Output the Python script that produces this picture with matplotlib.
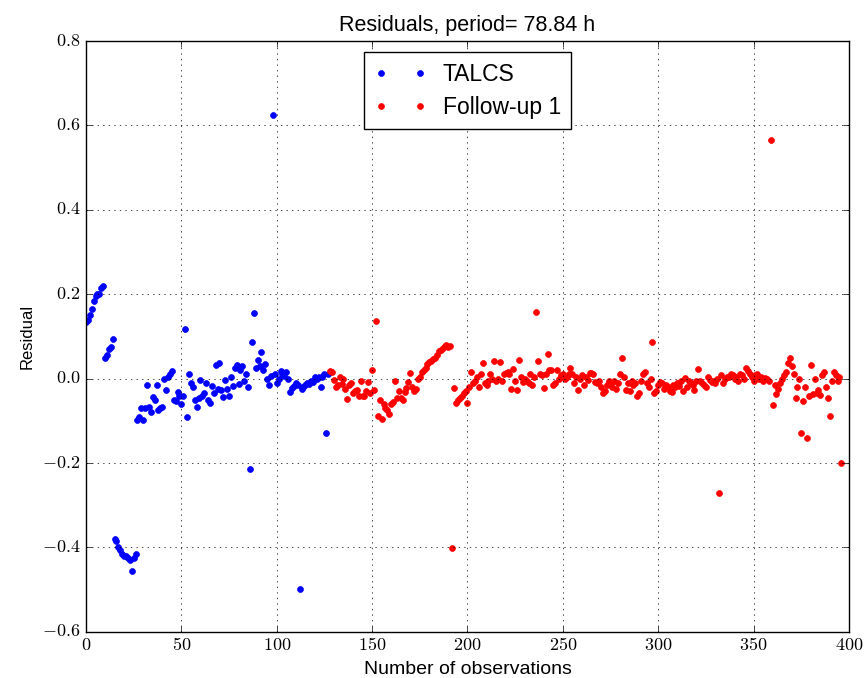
import numpy as np
import matplotlib
matplotlib.use('Agg')
import matplotlib.pyplot as plt
from matplotlib.ticker import FuncFormatter

# residuals
talcs = [0.135, 0.14, 0.15, 0.165, 0.185, 0.195, 0.2, 0.2, 0.215, 0.22,
         0.05, 0.055, 0.07, 0.075, 0.095,
         -0.38, -0.385, -0.40, -0.405, -0.415, -0.42, -0.42, -0.425, -0.43, -0.455, -0.425, -0.415,
         -0.098, -0.09, -0.07, -0.098, -0.07, -0.015, -0.066, -0.08, -0.043, -0.05,
         -0.015, -0.074, -0.07, -0.068, 0.0, -0.027, 0.005, 0.011, 0.017, -0.05,
         -0.053, -0.031, -0.04,
         -0.06, -0.04, 0.118, -0.09, 0.011, -0.01, -0.02, -0.05, -0.068, -0.046,
         -0.003, -0.042, -0.034, -0.01, -0.05, -0.058, -0.017, -0.034, 0.032, -0.024,
         0.038, -0.026, -0.044, -0.003, -0.024, -0.04, 0.004, -0.017, 0.025, 0.032,
         -0.012, 0.02, 0.03, -0.005,
         0.01, -0.02, -0.215, 0.088, 0.156, 0.025, 0.044, 0.03, 0.064, 0.02,
         0.035, 0.0, -0.015, 0.006, 0.625, 0.01, -0.01, 0.0, 0.017, 0.01,
         0.006, 0.015, 0.0, -0.032, -0.022, -0.017, -0.01, -0.015, -0.498, -0.025,
         -0.02, -0.015, -0.01, -0.012, -0.005, -0.008, 0.004, 0.0, 0.005, -0.02,
         0.005, 0.01, -0.128, 0.012]

followup = [0.017, 0.015, -0.003, -0.02, -0.015, 0.004, -0.012, 0.0, -0.025, -0.048,
            -0.015, -0.01, -0.035, -0.03, -0.027, -0.04, -0.005, -0.04, -0.042, -0.03,
            -0.008, -0.035, 0.021, -0.028, 0.137, -0.088, -0.05, -0.095, -0.06, -0.07,
            -0.075, -0.083, -0.06, -0.055, -0.005, -0.045, -0.03, -0.045, -0.05, -0.031,
            -0.021, -0.008, 0.013, -0.02, -0.03, -0.025, 0.0, 0.005, 0.015, 0.021,
            0.025, 0.035, 0.04, 0.043, 0.046, 0.05, 0.055, 0.066, 0.068, 0.072,
            0.077, 0.08, 0.075, 0.078, -0.401, -0.023, -0.057, -0.05, -0.045, -0.04,
            -0.035, -0.03, -0.057, -0.02, 0.016, -0.01, -0.005,
            0.005, -0.02, 0.01, 0.037, -0.01, -0.015, -0.005, 0.01, 0.0, 0.042, -0.005, 0.0,
            0.04, -0.005, 0.011, 0.014, 0.016, 0.012, -0.025, 0.022, -0.005, -0.028, 0.044,
            0.005, -0.008, 0.0, -0.005, -0.01, 0.01, -0.015, 0.005, 0.157, 0.043,
            0.012, 0.008, -0.022, 0.01, 0.058, 0.02, 0.02, -0.015, -0.01, 0.02, 0.0,
            0.008, 0.012, 0.0, 0.003, 0.012, 0.025, 0.01, -0.01, 0.003, -0.027, 0.0,
            0.009, -0.015, 0.005, -0.003, 0.013, 0.014, 0.01, -0.008, -0.01, -0.005,
            -0.02, -0.033, -0.03, -0.015, -0.005, -0.01, -0.02, -0.005, -0.025, -0.01, 0.01,
            0.05, 0.005, -0.028, -0.01, -0.03, -0.005, -0.015, -0.01, -0.04, -0.035,
            -0.005, 0.01, 0.015, -0.01, -0.02, 0.0, 0.088, -0.035, -0.03, -0.015,
            -0.007, -0.01, -0.025, -0.015, -0.02, -0.03, -0.031, -0.015, -0.02, -0.01, -0.018,
            -0.005, -0.03, 0.001, -0.02, -0.005, -0.01, -0.015, -0.027, -0.005, 0.022, -0.005,
            -0.01, -0.015, -0.019, 0.005, -0.002, -0.008, -0.005, -0.01, 0.0, -0.271, 0.008,
            -0.01, 0.0, 0.005, 0.003, 0.01, 0.008, 0.0, 0.005, -0.005, 0.012,
            0.008, 0.0, 0.025, 0.018, 0.01, 0.005, -0.005, 0.008, 0.01, 0.0,
            0.003, -0.005, 0.002, 0.0, -0.005, 0.566, -0.062, -0.015, -0.036, -0.025,
            -0.01, 0.0, 0.008, 0.015, 0.036, 0.048, 0.03, 0.01, -0.045, -0.02,
            0.0, -0.128, -0.052, -0.02, -0.14, -0.04, 0.032, -0.037, 0.0, -0.035,
            -0.026, -0.038, 0.008, 0.015, -0.02, -0.045, -0.088, -0.005, 0.015, 0.008,
            -0.005, 0.005, -0.2]

x_talcs = np.arange(len(talcs))
x_follow = np.arange(len(talcs), len(talcs) + len(followup))

plt.style.use('classic')
plt.rcParams['font.family'] = ['Liberation Sans', 'DejaVu Sans']
plt.rcParams['mathtext.fontset'] = 'cm'

fig = plt.figure(figsize=(8.64, 6.78), dpi=100)
ax = fig.add_axes([0.0995, 0.068, 0.8831, 0.8715])

ax.plot(x_talcs, talcs, '.', color='b', markersize=8.5, markeredgecolor='b', label='TALCS')
ax.plot(x_follow, followup, '.', color='r', markersize=8.5, markeredgecolor='r', label='Follow-up 1')

ax.set_xlim(0, 400)
ax.set_ylim(-0.6, 0.8)
ax.set_xticks(np.arange(0, 401, 50))
ax.set_yticks(np.arange(-0.6, 0.81, 0.2))
ax.xaxis.set_major_formatter(FuncFormatter(lambda v, p: r'$%d$' % v))
ax.yaxis.set_major_formatter(FuncFormatter(lambda v, p: r'$%.1f$' % v))
ax.tick_params(labelsize=13)
ax.grid(True, color='k', linestyle=':')

ax.set_title('Residuals, period= 78.84 h', fontsize=15.5, y=1.005)
ax.set_xlabel('Number of observations', fontsize=14)
ax.set_ylabel('Residual', fontsize=12)
ax.legend(loc='upper center', numpoints=2, fontsize=16.5, fancybox=False,
          handlelength=2.3, labelspacing=0.45, borderpad=0.45, handletextpad=0.7)

fig.savefig('out.png', dpi=100)
